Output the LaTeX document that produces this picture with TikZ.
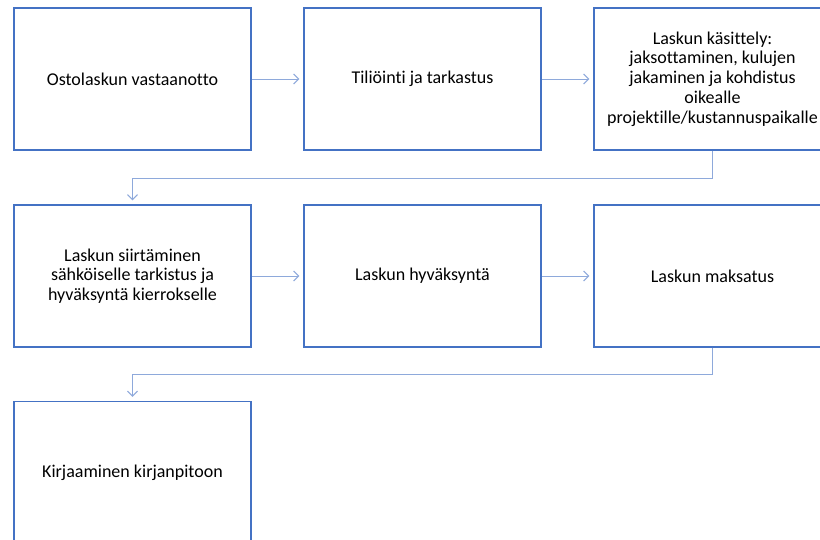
\documentclass[tikz,border=0pt]{standalone}
\usepackage{fontspec}
\setmainfont{Carlito}[Ligatures=NoCommon]
\usetikzlibrary{arrows.meta}
\definecolor{boxblue}{HTML}{4472C4}
\definecolor{connblue}{HTML}{8EA9DB}
\begin{document}
\begin{tikzpicture}[x=1pt,y=-1pt,
  stepbox/.style={draw=boxblue,line width=1.4pt,minimum width=237pt,minimum height=142pt,
    align=center,font=\fontsize{18pt}{19.8pt}\selectfont,inner sep=0pt},
  conn/.style={draw=connblue,line width=1pt,-{Straight Barb[length=5pt,width=10pt]},shorten >=4pt}]
\clip (0,0) rectangle (820,539);
\fill[white] (0,0) rectangle (820,539);
\node[stepbox] (b1) at (132.5,79) {Ostolaskun vastaanotto};
\node[stepbox] (b2) at (422.5,79) {Tiliöinti ja tarkastus};
\node[stepbox] (b3) at (712.5,79) {Laskun käsittely:\\jaksottaminen, kulujen\\jakaminen ja kohdistus\\oikealle\\projektille/kustannuspaikalle};
\node[stepbox] (b4) at (132.5,276) {Laskun siirtäminen\\sähköiselle tarkistus ja\\hyväksyntä kierrokselle};
\node[stepbox] (b5) at (422.5,276) {Laskun hyväksyntä};
\node[stepbox] (b6) at (712.5,276) {Laskun maksatus};
\node[stepbox] (b7) at (132.5,472.5) {Kirjaaminen kirjanpitoon};
\draw[conn] (b1.east) -- (b2.west);
\draw[conn] (b2.east) -- (b3.west);
\draw[conn] (b3.south) -- ++(0,28) -| (b4.north);
\draw[conn] (b4.east) -- (b5.west);
\draw[conn] (b5.east) -- (b6.west);
\draw[conn] (b6.south) -- ++(0,27) -| (b7.north);
\end{tikzpicture}
\end{document}
